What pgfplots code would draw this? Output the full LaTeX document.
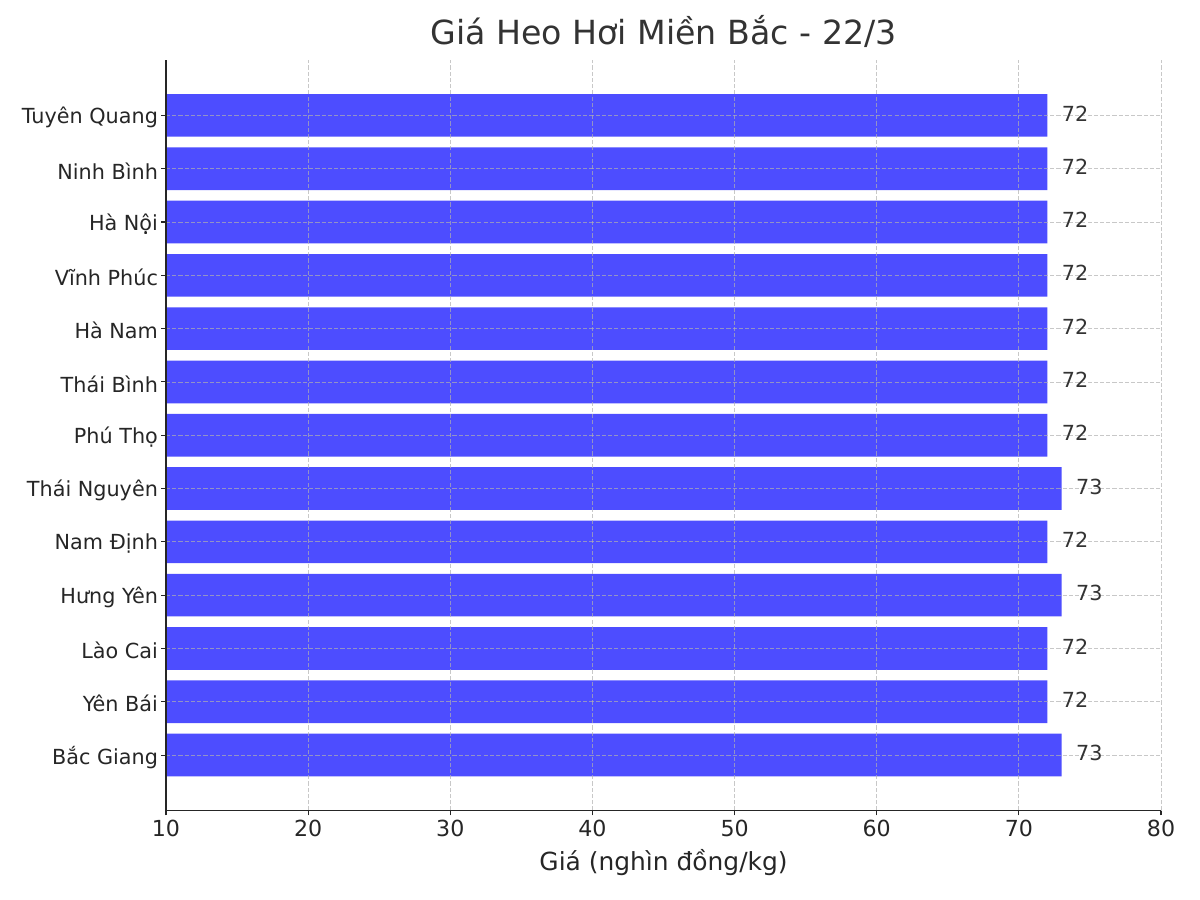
\documentclass[border=0pt]{standalone}
\usepackage{fontspec}
\setmainfont{DejaVu Sans}
\usepackage{pgfplots}
\pgfplotsset{compat=1.18}
\definecolor{barblue}{HTML}{4D4DFF}
\definecolor{txt}{HTML}{262626}
\definecolor{ttl}{HTML}{333333}
\definecolor{gridc}{HTML}{B0B0B0}
\begin{document}
\begin{tikzpicture}
\path[use as bounding box] (0,0) rectangle (867.24pt,650.43pt);
\begin{axis}[
  at={(119.97pt,64.68pt)}, anchor=south west,
  width=719.1pt, height=542.4pt, scale only axis,
  xbar, bar width=0.8,
  xmin=10, xmax=80, ymin=-1.04, ymax=13.04,
  xtick={10,20,...,80},
  ytick={0,...,12},
  yticklabels={Bắc Giang,Yên Bái,Lào Cai,Hưng Yên,Nam Định,Thái Nguyên,Phú Thọ,Thái Bình,Hà Nam,Vĩnh Phúc,Hà Nội,Ninh Bình,Tuyên Quang},
  axis x line*=bottom, axis y line*=left,
  axis line style={-, line width=1.1pt, color=txt},
  tick align=outside, major tick length=3.5pt,
  tick style={line width=0.8pt, color=txt},
  grid=major,
  major grid style={dash pattern=on 3pt off 1.5pt, color=gridc, opacity=0.7, line width=0.6pt},
  axis on top,
  /pgf/number format/assume math mode=true,
  xticklabel style={font=\fontsize{16}{19}\selectfont, text=txt},
  yticklabel style={font=\fontsize{15}{18}\selectfont, text=txt, xshift=1.2pt, yshift=-1.5pt},
  xlabel={Giá (nghìn đồng/kg)},
  xlabel style={font=\fontsize{18}{21}\selectfont, text=txt, at={(axis description cs:0.5,-0.0806)}, anchor=base},
  title={Giá Heo Hơi Miền Bắc - 22/3},
  title style={font=\fontsize{24}{28}\selectfont, text=ttl, at={(axis description cs:0.5,1.0093)}, anchor=base},
  nodes near coords,
  nodes near coords style={font=\fontsize{15}{18}\selectfont, text=ttl, anchor=west, inner sep=0pt, xshift=10.3pt, yshift=1.5pt},
]
\addplot[fill=barblue, draw=none] coordinates {
  (73,0) (72,1) (72,2) (73,3) (72,4) (73,5) (72,6) (72,7) (72,8) (72,9) (72,10) (72,11) (72,12)
};
\end{axis}
\end{tikzpicture}
\end{document}
